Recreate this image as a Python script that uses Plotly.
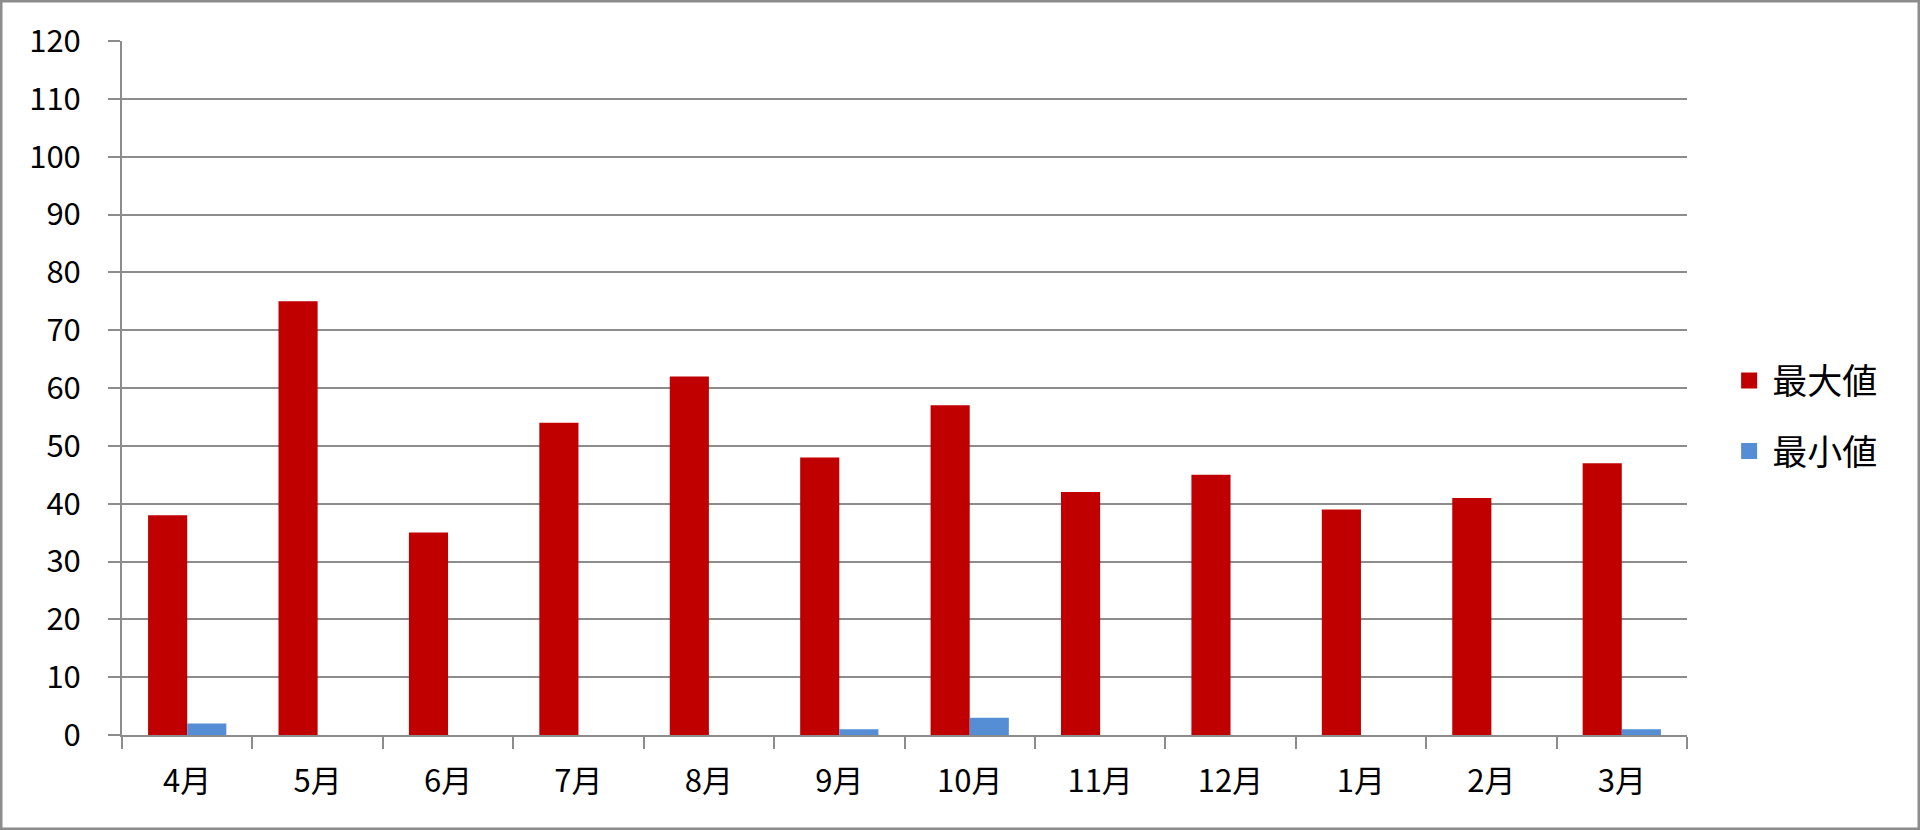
import plotly.graph_objects as go

months = ["4月", "5月", "6月", "7月", "8月", "9月", "10月", "11月", "12月", "1月", "2月", "3月"]
max_vals = [38, 75, 35, 54, 62, 48, 57, 42, 45, 39, 41, 47]
min_vals = [2, 0, 0, 0, 0, 1, 3, 0, 0, 0, 0, 1]
y_ticks = [0, 10, 20, 30, 40, 50, 60, 70, 80, 90, 100, 110, 120]

FONT = "Noto Sans CJK JP"
RED = "#C00000"
BLUE = "#558ED5"
GRAY = "#8c8c8c"

fig = go.Figure()
fig.add_trace(go.Bar(x=months, y=max_vals, name="最大値", showlegend=False,
                     marker=dict(color=RED, line=dict(width=0))))
fig.add_trace(go.Bar(x=months, y=min_vals, name="最小値", showlegend=False,
                     marker=dict(color=BLUE, line=dict(width=0))))
# legend entries (square swatches)
fig.add_trace(go.Scatter(x=[None], y=[None], mode="markers", name="最大値", legendgroup="a",
                         marker=dict(symbol="square", size=18, color=RED)))
fig.add_trace(go.Scatter(x=[None], y=[None], mode="markers", name="最小値", legendgroup="b",
                         marker=dict(symbol="square", size=18, color=BLUE)))

fig.update_layout(
    width=1920, height=830,
    margin=dict(l=122, r=233, t=41, b=95),
    paper_bgcolor="white", plot_bgcolor="white",
    barmode="group", bargap=0.4, bargroupgap=0,
    font=dict(family=FONT, size=31, color="#000000"),
    legend=dict(x=1.025, y=0.46, xanchor="left", yanchor="middle",
                font=dict(size=35), tracegroupgap=22, traceorder="grouped",
                itemwidth=36, bgcolor="rgba(0,0,0,0)"),
    xaxis=dict(type="category", tickson="boundaries", ticks="outside", ticklen=12,
               tickcolor=GRAY, tickwidth=2, showline=True, linecolor=GRAY,
               linewidth=2, showgrid=False, ticklabelstandoff=18,
               tickfont=dict(size=31, family=FONT)),
    yaxis=dict(range=[0, 120], tickvals=y_ticks, ticks="outside", ticklen=12,
               tickcolor=GRAY, tickwidth=2, showline=True, linecolor=GRAY,
               linewidth=2, showgrid=True, gridcolor=GRAY, gridwidth=2,
               zeroline=False, ticklabelstandoff=21,
               tickfont=dict(size=31, family=FONT)),
)
# border around whole image
fig.add_shape(type="rect", xref="paper", yref="paper",
              x0=-121/1565, x1=1+232/1565, y0=-94/694, y1=1+40/694,
              line=dict(color=GRAY, width=3))

fig.write_html("out.html", config={"displayModeBar": False},
               post_script="document.body.style.margin='0';document.body.style.overflow='hidden';")
